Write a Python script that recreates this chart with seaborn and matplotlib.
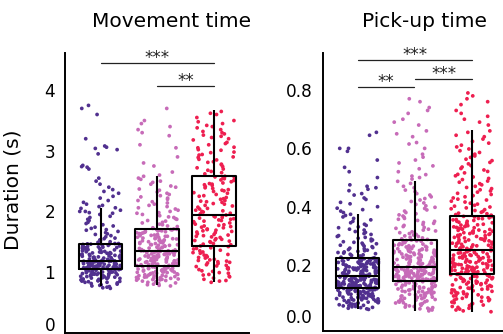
import numpy as np
import pandas as pd
import seaborn as sns
import matplotlib.pyplot as plt
from matplotlib.transforms import ScaledTranslation

# ---------------- data ----------------
groups = ["G1", "G2", "G3"]
colors = ["#51308f", "#c76bb8", "#ee1f50"]
titles = ["Movement time", "Pick-up time"]
ylabel = "Duration (s)"

# box summaries: [whisker low, Q1, median, Q3, whisker high]
move_box_g1 = [0.77, 1.045, 1.19, 1.47, 2.06]
move_box_g2 = [0.785, 1.094, 1.352, 1.71, 2.59]
move_box_g3 = [0.83, 1.435, 1.94, 2.59, 3.67]
pick_box_g1 = [0.048, 0.12, 0.163, 0.224, 0.374]
pick_box_g2 = [0.043, 0.145, 0.195, 0.285, 0.487]
pick_box_g3 = [0.04, 0.171, 0.251, 0.369, 0.663]

# individual trials (estimated from the scatter)
move_g1 = [0.74, 0.76, 0.77, 0.79, 0.8, 0.82, 0.83, 0.84, 0.85, 0.86, 0.87, 0.88, 0.89, 0.9, 0.91,
           0.92, 0.93, 0.94, 0.95, 0.96, 0.96, 0.97, 0.98, 0.99, 1.0, 1.0, 1.01, 1.02, 1.03, 1.04,
           1.05, 1.05, 1.06, 1.06, 1.07, 1.07, 1.08, 1.08, 1.09, 1.09, 1.1, 1.1, 1.11, 1.11, 1.12,
           1.12, 1.13, 1.13, 1.14, 1.14, 1.15, 1.15, 1.16, 1.16, 1.17, 1.17, 1.18, 1.18, 1.19, 1.19,
           1.2, 1.21, 1.22, 1.23, 1.24, 1.25, 1.26, 1.27, 1.28, 1.29, 1.3, 1.31, 1.32, 1.33, 1.34,
           1.35, 1.36, 1.37, 1.38, 1.39, 1.4, 1.41, 1.42, 1.43, 1.44, 1.45, 1.46, 1.46, 1.47, 1.47,
           1.5, 1.53, 1.56, 1.6, 1.63, 1.67, 1.7, 1.74, 1.78, 1.82, 1.87, 1.92, 1.97, 2.02, 2.06,
           2.1, 2.15, 2.22, 2.3, 2.36, 2.45, 2.55, 2.7, 2.73, 2.76, 3.02, 3.06, 3.2, 3.6, 3.7, 3.75]
move_g1_b = [0.73, 0.75, 0.78, 0.81, 0.83, 0.845, 0.855, 0.865, 0.875, 0.885, 0.895, 0.905, 0.915,
             0.925, 0.935, 0.945, 0.955, 0.965, 0.975, 0.985, 0.995, 1.005, 1.015, 1.025, 1.035, 1.04,
             0.97, 0.99, 1.048, 1.052, 1.058, 1.063, 1.068, 1.073, 1.078, 1.083, 1.088, 1.093, 1.098,
             1.103, 1.108, 1.113, 1.118, 1.123, 1.128, 1.133, 1.138, 1.143, 1.148, 1.153, 1.158, 1.163,
             1.168, 1.173, 1.178, 1.183, 1.195, 1.205, 1.215, 1.225, 1.235, 1.245, 1.255, 1.265, 1.275,
             1.285, 1.295, 1.305, 1.315, 1.325, 1.335, 1.345, 1.355, 1.365, 1.375, 1.385, 1.395, 1.405,
             1.415, 1.425, 1.435, 1.445, 1.455, 1.465, 1.49, 1.52, 1.55, 1.58, 1.62, 1.65, 1.69, 1.72,
             1.76, 1.8, 1.85, 1.9, 1.95, 2.0, 2.05, 2.08, 2.12, 2.18, 2.25, 2.33, 2.4, 2.5, 2.74, 2.95,
             3.04, 3.08, 2.0, 1.98]
move_g2 = [0.77, 0.79, 0.8, 0.82, 0.83, 0.85, 0.86, 0.87, 0.88, 0.89, 0.9, 0.91, 0.92, 0.93, 0.94,
           0.95, 0.96, 0.97, 0.98, 0.99, 1.0, 1.01, 1.02, 1.03, 1.04, 1.05, 1.06, 1.07, 1.08, 1.09,
           1.1, 1.11, 1.12, 1.13, 1.14, 1.15, 1.16, 1.17, 1.18, 1.19, 1.2, 1.21, 1.22, 1.23, 1.24,
           1.25, 1.26, 1.27, 1.28, 1.29, 1.3, 1.31, 1.32, 1.33, 1.33, 1.34, 1.34, 1.35, 1.35, 1.35,
           1.36, 1.37, 1.39, 1.4, 1.41, 1.43, 1.44, 1.45, 1.47, 1.48, 1.49, 1.51, 1.52, 1.53, 1.55,
           1.56, 1.57, 1.59, 1.6, 1.61, 1.63, 1.64, 1.65, 1.66, 1.67, 1.68, 1.69, 1.7, 1.7, 1.71,
           1.73, 1.76, 1.79, 1.82, 1.85, 1.88, 1.91, 1.95, 1.98, 2.02, 2.06, 2.1, 2.14, 2.18, 2.22,
           2.26, 2.3, 2.35, 2.4, 2.45, 2.5, 2.55, 2.6, 2.75, 2.9, 3.05, 3.3, 3.35, 3.45, 3.5, 3.7]
move_g2_b = [0.78, 0.81, 0.84, 0.865, 0.875, 0.885, 0.895, 0.905, 0.915, 0.925, 0.935, 0.945, 0.955,
             0.965, 0.975, 0.985, 0.995, 1.005, 1.015, 1.025, 1.035, 1.045, 1.055, 1.065, 1.075, 1.085,
             1.09, 1.0, 1.105, 1.115, 1.125, 1.135, 1.145, 1.155, 1.165, 1.175, 1.185, 1.195, 1.205,
             1.215, 1.225, 1.235, 1.245, 1.255, 1.265, 1.275, 1.285, 1.295, 1.305, 1.315, 1.325, 1.335,
             1.345, 1.3, 1.25, 1.2, 1.365, 1.38, 1.395, 1.41, 1.425, 1.44, 1.455, 1.47, 1.485, 1.5,
             1.515, 1.53, 1.545, 1.56, 1.575, 1.59, 1.605, 1.62, 1.635, 1.65, 1.665, 1.68, 1.695, 1.705,
             1.45, 1.5, 1.55, 1.6, 1.72, 1.75, 1.78, 1.81, 1.84, 1.87, 1.9, 1.93, 1.97, 2.0, 2.04, 2.08,
             2.12, 2.16, 2.2, 2.24, 2.28, 2.32, 2.37, 2.42, 2.48, 2.53, 2.58, 2.65, 2.8, 3.25, 3.4, 3.1]
move_g3 = [0.83, 0.86, 0.9, 0.93, 0.96, 0.99, 1.02, 1.05, 1.07, 1.1, 1.12, 1.15, 1.17, 1.19, 1.21,
           1.23, 1.25, 1.27, 1.29, 1.31, 1.33, 1.35, 1.38, 1.4, 1.42,
           1.45, 1.47, 1.49, 1.51, 1.53, 1.55, 1.57, 1.59, 1.61, 1.63, 1.65, 1.67, 1.69, 1.71, 1.73,
           1.75, 1.77, 1.79, 1.81, 1.83, 1.85, 1.87, 1.89, 1.91, 1.93,
           1.96, 1.99, 2.02, 2.04, 2.07, 2.1, 2.12, 2.15, 2.18, 2.2, 2.23, 2.25, 2.28, 2.31, 2.33,
           2.36, 2.38, 2.41, 2.44, 2.46, 2.49, 2.51, 2.54, 2.56, 2.58,
           2.62, 2.66, 2.7, 2.74, 2.78, 2.82, 2.86, 2.9, 2.94, 2.98, 3.02, 3.06, 3.1, 3.14, 3.18,
           3.22, 3.26, 3.3, 3.35, 3.4, 3.45, 3.5, 3.55, 3.6, 3.65]
move_g3_b = [0.85, 0.88, 0.92, 0.95, 0.98, 1.01, 1.04, 1.06, 1.09, 1.11, 1.14, 1.16, 1.18, 1.2, 1.24,
             1.28, 1.32, 1.36, 1.39, 1.43, 1.46, 1.5, 1.54, 1.58, 1.62, 1.66, 1.7, 1.74, 1.78, 1.82,
             1.86, 1.9, 1.92, 1.52, 1.6, 1.68, 1.76, 1.84, 1.88, 1.94, 1.97, 2.01, 2.05, 2.09, 2.13,
             2.17, 2.21, 2.26, 2.3, 2.34, 2.39, 2.43, 2.47, 2.52, 2.57, 2.0, 2.16, 2.35, 2.45, 2.55,
             2.64, 2.68, 2.72, 2.77, 2.81, 2.85, 2.89, 2.93, 2.97, 3.01, 3.05, 3.12, 3.2, 3.24, 3.28,
             3.32, 3.38, 3.42, 3.48, 3.62]

pick_g1 = [0.048, 0.052, 0.055, 0.058, 0.06, 0.062, 0.065, 0.067, 0.07, 0.071, 0.073, 0.075, 0.077,
           0.079, 0.08, 0.082, 0.084, 0.085, 0.087, 0.089, 0.09, 0.092, 0.094, 0.095, 0.097, 0.099,
           0.1, 0.102, 0.103, 0.105, 0.107, 0.108, 0.11, 0.111, 0.113, 0.114, 0.116, 0.117, 0.118, 0.119,
           0.121, 0.122, 0.123, 0.124, 0.125, 0.126, 0.127, 0.128, 0.129, 0.13, 0.131, 0.132, 0.133,
           0.134, 0.135, 0.136, 0.137, 0.138, 0.139, 0.14, 0.141, 0.142, 0.143, 0.144, 0.145, 0.146,
           0.147, 0.148, 0.149, 0.15, 0.151, 0.152, 0.153, 0.154, 0.155, 0.156, 0.158, 0.159, 0.161, 0.162,
           0.164, 0.166, 0.167, 0.169, 0.17, 0.172, 0.173, 0.175, 0.176, 0.178, 0.179, 0.181, 0.182,
           0.184, 0.185, 0.187, 0.188, 0.19, 0.191, 0.193, 0.194, 0.196, 0.197, 0.199, 0.2, 0.202,
           0.203, 0.205, 0.206, 0.208, 0.209, 0.211, 0.212, 0.214, 0.215, 0.217, 0.218, 0.22, 0.221, 0.223,
           0.227, 0.231, 0.235, 0.239, 0.243, 0.247, 0.251, 0.256, 0.26, 0.265, 0.27, 0.275, 0.28,
           0.286, 0.292, 0.298, 0.305, 0.312, 0.32, 0.328, 0.336, 0.345, 0.355, 0.365, 0.374, 0.385,
           0.395, 0.41, 0.425, 0.44, 0.455, 0.465, 0.47, 0.5, 0.52, 0.535, 0.56, 0.6, 0.645, 0.655]
pick_g1_b = [0.05, 0.054, 0.057, 0.061, 0.064, 0.066, 0.069, 0.072, 0.074, 0.076, 0.078, 0.081, 0.083,
             0.086, 0.088, 0.091, 0.093, 0.096, 0.098, 0.101, 0.104, 0.106, 0.109, 0.112, 0.115, 0.117,
             0.119, 0.12, 0.086, 0.09, 0.094, 0.1, 0.106, 0.11, 0.114,
             0.1205, 0.1215, 0.1225, 0.1235, 0.1245, 0.1255, 0.1265, 0.1275, 0.1285, 0.1295, 0.1305,
             0.1315, 0.1325, 0.1335, 0.1345, 0.1355, 0.1365, 0.1375, 0.1385, 0.1395, 0.1405, 0.1415,
             0.1425, 0.1435, 0.1445, 0.1455, 0.1465, 0.1475, 0.1485, 0.1495, 0.1525, 0.1545, 0.1565,
             0.1585, 0.1605, 0.165, 0.168, 0.171, 0.174, 0.177, 0.18, 0.183, 0.186, 0.189, 0.192, 0.195,
             0.198, 0.201, 0.204, 0.207, 0.21, 0.213, 0.216, 0.219, 0.222, 0.166, 0.171, 0.176, 0.181,
             0.186, 0.191, 0.196, 0.201, 0.206, 0.211, 0.216, 0.221, 0.18, 0.19, 0.2,
             0.225, 0.229, 0.233, 0.237, 0.241, 0.245, 0.249, 0.253, 0.258, 0.263, 0.268, 0.273, 0.278,
             0.283, 0.289, 0.295, 0.301, 0.308, 0.315, 0.323, 0.331, 0.34, 0.35, 0.36, 0.37, 0.38, 0.39,
             0.4, 0.415, 0.43, 0.445, 0.46, 0.475, 0.59, 0.6]
pick_g2 = [0.043, 0.048, 0.052, 0.056, 0.06, 0.064, 0.068, 0.071, 0.074, 0.077, 0.08, 0.083, 0.086,
           0.089, 0.091, 0.094, 0.096, 0.099, 0.101, 0.104, 0.106, 0.109, 0.111, 0.113, 0.115, 0.118,
           0.12, 0.122, 0.124, 0.126, 0.128, 0.13, 0.132, 0.134, 0.136, 0.138, 0.14, 0.141, 0.143, 0.144,
           0.146, 0.147, 0.148, 0.15, 0.151, 0.152, 0.153, 0.155, 0.156, 0.157, 0.158, 0.16, 0.161,
           0.162, 0.163, 0.165, 0.166, 0.167, 0.168, 0.17, 0.171, 0.172, 0.173, 0.175, 0.176, 0.177,
           0.178, 0.18, 0.181, 0.182, 0.183, 0.185, 0.186, 0.187, 0.188, 0.19, 0.191, 0.192, 0.193, 0.194,
           0.197, 0.199, 0.201, 0.203, 0.206, 0.208, 0.21, 0.212, 0.215, 0.217, 0.219, 0.221, 0.224,
           0.226, 0.228, 0.23, 0.233, 0.235, 0.237, 0.239, 0.242, 0.244, 0.246, 0.248, 0.251, 0.253,
           0.255, 0.257, 0.26, 0.262, 0.264, 0.266, 0.269, 0.271, 0.273, 0.275, 0.278, 0.28, 0.282, 0.284,
           0.288, 0.293, 0.298, 0.303, 0.308, 0.314, 0.32, 0.326, 0.332, 0.339, 0.346, 0.353, 0.36,
           0.368, 0.376, 0.385, 0.394, 0.403, 0.413, 0.423, 0.434, 0.445, 0.457, 0.47, 0.487, 0.5,
           0.51, 0.53, 0.55, 0.57, 0.6, 0.615, 0.62, 0.65, 0.68, 0.69, 0.72, 0.73, 0.76, 0.77]
pick_g2_b = [0.046, 0.05, 0.054, 0.058, 0.062, 0.066, 0.07, 0.073, 0.076, 0.079, 0.082, 0.085, 0.088,
             0.09, 0.093, 0.095, 0.098, 0.1, 0.103, 0.105, 0.108, 0.11, 0.112, 0.114, 0.117, 0.119,
             0.121, 0.123, 0.125, 0.127, 0.129, 0.131, 0.135, 0.139, 0.142,
             0.1455, 0.1475, 0.149, 0.1505, 0.152, 0.154, 0.155, 0.157, 0.1585, 0.16, 0.1615, 0.163,
             0.1645, 0.166, 0.1675, 0.169, 0.1705, 0.172, 0.1735, 0.175, 0.1765, 0.178, 0.1795, 0.181,
             0.1825, 0.184, 0.1855, 0.187, 0.1885, 0.19, 0.1915, 0.193, 0.1945, 0.16, 0.175,
             0.196, 0.198, 0.2, 0.202, 0.205, 0.207, 0.209, 0.211, 0.214, 0.216, 0.218, 0.22, 0.223,
             0.225, 0.227, 0.229, 0.232, 0.234, 0.236, 0.238, 0.241, 0.243, 0.245, 0.247, 0.25, 0.252,
             0.254, 0.256, 0.259, 0.261, 0.265, 0.268, 0.272, 0.277, 0.283,
             0.286, 0.29, 0.295, 0.3, 0.305, 0.311, 0.317, 0.323, 0.329, 0.336, 0.343, 0.35, 0.357,
             0.364, 0.372, 0.38, 0.389, 0.398, 0.408, 0.418, 0.428, 0.44, 0.452, 0.465, 0.48, 0.495,
             0.505, 0.52, 0.54, 0.56, 0.58, 0.64, 0.66, 0.7, 0.74]
pick_g3 = [0.04, 0.046, 0.052, 0.058, 0.063, 0.068, 0.073, 0.078, 0.082, 0.086, 0.09, 0.094, 0.098,
           0.102, 0.105, 0.108, 0.112, 0.115, 0.118, 0.121, 0.124, 0.127, 0.13, 0.133, 0.136, 0.139,
           0.142, 0.145, 0.148, 0.15, 0.153, 0.155, 0.158, 0.16, 0.162, 0.164, 0.166, 0.167, 0.169, 0.17,
           0.173, 0.175, 0.177, 0.179, 0.181, 0.183, 0.185, 0.187, 0.189, 0.191, 0.193, 0.195, 0.197,
           0.199, 0.201, 0.203, 0.205, 0.207, 0.209, 0.211, 0.213, 0.215, 0.217, 0.219, 0.221, 0.223,
           0.225, 0.227, 0.229, 0.231, 0.233, 0.235, 0.237, 0.239, 0.241, 0.243, 0.245, 0.247, 0.249, 0.25,
           0.254, 0.257, 0.26, 0.263, 0.266, 0.269, 0.272, 0.275, 0.278, 0.281, 0.284, 0.287, 0.29,
           0.293, 0.296, 0.299, 0.302, 0.305, 0.308, 0.311, 0.314, 0.317, 0.32, 0.323, 0.326, 0.329,
           0.332, 0.335, 0.338, 0.341, 0.344, 0.347, 0.35, 0.353, 0.356, 0.359, 0.362, 0.365, 0.367, 0.368,
           0.373, 0.378, 0.384, 0.39, 0.396, 0.402, 0.409, 0.416, 0.423, 0.43, 0.438, 0.446, 0.454,
           0.462, 0.47, 0.479, 0.488, 0.497, 0.506, 0.516, 0.526, 0.536, 0.547, 0.558, 0.569, 0.58,
           0.592, 0.605, 0.618, 0.632, 0.645, 0.66, 0.68, 0.7, 0.71, 0.73, 0.75, 0.76, 0.78, 0.79]
pick_g3_b = [0.043, 0.049, 0.055, 0.061, 0.066, 0.071, 0.076, 0.08, 0.084, 0.088, 0.092, 0.096, 0.1,
             0.104, 0.107, 0.11, 0.114, 0.117, 0.12, 0.123, 0.126, 0.129, 0.132, 0.135, 0.138, 0.141,
             0.144, 0.147, 0.151, 0.154, 0.157, 0.161, 0.163, 0.165, 0.168,
             0.172, 0.174, 0.176, 0.178, 0.18, 0.182, 0.184, 0.186, 0.188, 0.19, 0.192, 0.194, 0.196,
             0.198, 0.2, 0.202, 0.204, 0.206, 0.208, 0.21, 0.212, 0.214, 0.216, 0.218, 0.22, 0.222,
             0.224, 0.226, 0.228, 0.23, 0.234, 0.238, 0.242, 0.246, 0.249,
             0.253, 0.256, 0.259, 0.262, 0.265, 0.268, 0.271, 0.274, 0.277, 0.28, 0.283, 0.286, 0.289,
             0.292, 0.295, 0.298, 0.301, 0.304, 0.307, 0.31, 0.313, 0.316, 0.319, 0.322, 0.325, 0.328,
             0.331, 0.334, 0.337, 0.34, 0.345, 0.35, 0.355, 0.36, 0.366,
             0.371, 0.376, 0.381, 0.387, 0.393, 0.399, 0.405, 0.412, 0.419, 0.426, 0.434, 0.442, 0.45,
             0.458, 0.466, 0.475, 0.484, 0.493, 0.502, 0.511, 0.521, 0.531, 0.541, 0.552, 0.563, 0.574,
             0.586, 0.598, 0.611, 0.624, 0.64, 0.655, 0.69, 0.72, 0.77]

move_ticks = [0, 1, 2, 3, 4]
move_ticklabels = ["0", "1", "2", "3", "4"]
pick_ticks = [0.0, 0.2, 0.4, 0.6, 0.8]
pick_ticklabels = ["0.0", "0.2", "0.4", "0.6", "0.8"]

# significance brackets: (group from, group to, height, label)
move_sig = [(0, 2, 4.455, "***"), (1, 2, 4.074, "**")]
pick_sig = [(0, 2, 0.9027, "***"), (0, 0.985, 0.811, "**"), (1.015, 2, 0.8375, "***")]

# ---------------- plotting ----------------
sns.set_theme(style="white")
plt.rcParams["font.family"] = ["DejaVu Sans"]
np.random.seed(3)

W, H = 503, 334
fig = plt.figure(figsize=(W / 100, H / 100), dpi=100)
axL = fig.add_axes([65 / W, (H - 332.6) / H, (249 - 65) / W, (332.6 - 52.7) / H])
axR = fig.add_axes([322.7 / W, (H - 330.7) / H, (W - 322.7) / W, (330.7 - 52.7) / H])

palette = dict(zip(groups, colors))


def long_df(vals_list):
    return pd.DataFrame({
        "group": np.concatenate([[g] * len(v) for g, v in zip(groups, vals_list)]),
        "value": np.concatenate([np.asarray(v, float) for v in vals_list]),
    })


def panel(ax, pts, boxes, ylim, xlim, ticks, ticklabels, sig, zero_shift):
    sns.stripplot(data=long_df(pts), x="group", y="value", hue="group", order=groups,
                  hue_order=groups, palette=palette, jitter=0.37, size=2.7, linewidth=0,
                  legend=False, ax=ax, zorder=1)
    sns.boxplot(data=long_df(boxes), x="group", y="value", order=groups, whis=(0, 100),
                width=0.77, fill=False, color="black", linewidth=1.5, showcaps=False,
                medianprops={"color": "black", "linewidth": 1.5}, ax=ax)
    ax.set_xlim(*xlim)
    ax.set_ylim(*ylim)
    ax.set_xticks([])
    ax.set_xlabel("")
    ax.set_ylabel("")
    ax.set_yticks(ticks)
    ax.set_yticklabels(ticklabels)
    ax.tick_params(axis="y", length=0, pad=7, labelsize=12.2, labelcolor="black")
    for s in ["top", "right"]:
        ax.spines[s].set_visible(False)
    for s in ["left", "bottom"]:
        ax.spines[s].set_color("black")
        ax.spines[s].set_linewidth(1.4)
    lab0 = ax.get_yticklabels()[0]
    lab0.set_transform(lab0.get_transform() + ScaledTranslation(0, zero_shift / 100, fig.dpi_scale_trans))
    for a, b, y, txt in sig:
        ax.plot([a, b], [y, y], color="#222222", lw=0.9, clip_on=False)
        ax.text((a + b) / 2, y, txt, ha="center", va="baseline", fontsize=12,
                color="#222222", clip_on=False)


panel(axL, [move_g1 + move_g1_b, move_g2 + move_g2_b, move_g3 + move_g3_b],
      [move_box_g1, move_box_g2, move_box_g3],
      (0, 4.62), (-0.63, 2.62), move_ticks, move_ticklabels, move_sig, 8.5)
panel(axR, [pick_g1 + pick_g1_b, pick_g2 + pick_g2_b, pick_g3 + pick_g3_b],
      [pick_box_g1, pick_box_g2, pick_box_g3],
      (-0.025, 0.928), (-0.61, 2.55), pick_ticks, pick_ticklabels, pick_sig, 7.5)

fig.text(171.7 / W, 1 - 26.7 / H, titles[0], ha="center", va="baseline", fontsize=14.5, color="black")
fig.text(424 / W, 1 - 26.7 / H, titles[1], ha="center", va="baseline", fontsize=14.5, color="black")
fig.text(13.5 / W, 1 - 190 / H, ylabel, rotation=90, ha="center", va="center", fontsize=14.5, color="black")

fig.savefig("out.png", dpi=100)
